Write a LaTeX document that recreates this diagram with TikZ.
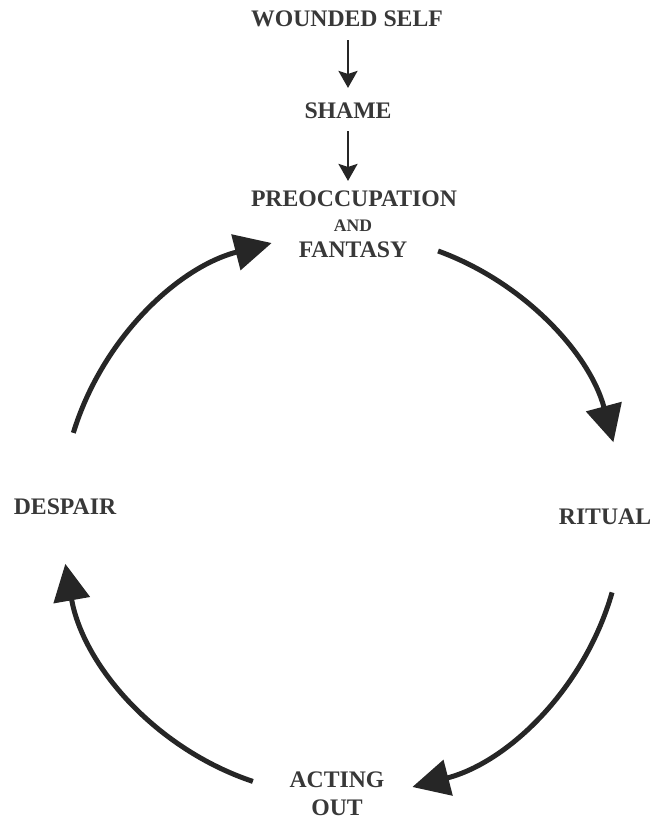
\documentclass[tikz,border=0pt]{standalone}
\usepackage{fontspec}
\setmainfont{Liberation Serif}
\usetikzlibrary{arrows.meta,positioning}
\newcommand{\CycleArrowType}{Triangle[length=0.74cm,width=0.72cm]}
\newcommand{\StepArrowType}{Stealth[length=0.34cm,width=0.38cm,inset=0.06cm]}
\newcommand{\CycleRadius}{5.62cm}

\begin{document}
\begin{tikzpicture}[x=0.02cm,y=-0.02cm,
		stage/.style={text=black!78,font=\fontsize{13.5}{16}\selectfont\bfseries,inner sep=1pt,align=center},
		small stage/.style={stage,font=\fontsize{10}{12}\selectfont\bfseries},
		cyclearrow/.style={-{\CycleArrowType},line width=0.1cm,draw=black!85},
		steparrow/.style={-{\StepArrowType},line width=0.05cm,draw=black!85}]
	\useasboundingbox (0,0) rectangle (660,821);

	% the way in
	\node[stage] (wounded) at (347,19) {WOUNDED SELF};
	\node[stage] (shame) at (348,111) {SHAME};
	\node[stage] (preocc) at (354,199) {PREOCCUPATION};
	\node[small stage] (and) at (353,226) {AND};
	\node[stage] (fantasy) at (353,250) {FANTASY};

	\draw[steparrow,shorten <=0.22cm,shorten >=0.26cm]
		(wounded.south -| shame) -- (shame.north);
	\draw[steparrow,shorten <=0.2cm,shorten >=0.16cm]
		(shame.south) -- (shame |- preocc.north);

	% the cycle
	\node[stage] (ritual) at (605,517) {RITUAL};
	\node[stage] (acting) at (337,794) {ACTING\\OUT};
	\node[stage] (despair) at (65,507) {DESPAIR};

	\coordinate (cyc) at (342,515);
	\draw[cyclearrow] ([shift={(70:\CycleRadius)}]cyc)
		arc[start angle=70,end angle=15,radius=\CycleRadius];
	\draw[cyclearrow] ([shift={(-16:\CycleRadius)}]cyc)
		arc[start angle=-16,end angle=-75.5,radius=\CycleRadius];
	\draw[cyclearrow] ([shift={(-108.5:\CycleRadius)}]cyc)
		arc[start angle=-108.5,end angle=-170,radius=\CycleRadius];
	\draw[cyclearrow] ([shift={(163:\CycleRadius)}]cyc)
		arc[start angle=163,end angle=104.5,radius=\CycleRadius];
\end{tikzpicture}
\end{document}
